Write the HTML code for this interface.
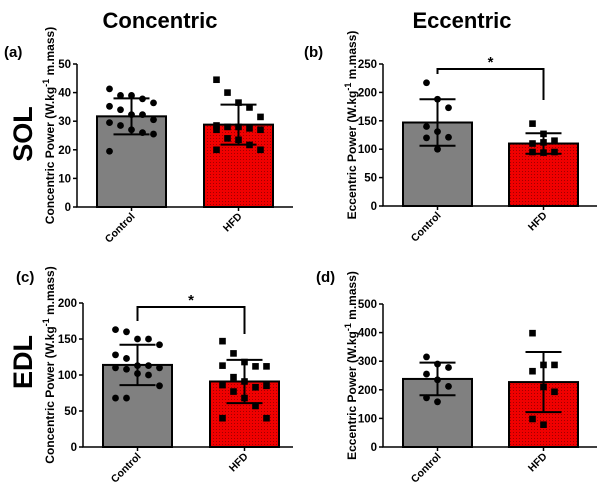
<!DOCTYPE html>
<html><head><meta charset="utf-8"><style>
body{margin:0;background:#fff;width:600px;height:489px;overflow:hidden}
svg{font-family:"Liberation Sans",Arial,sans-serif;font-weight:bold}
</style></head><body>
<svg id="fig" width="600" height="489" viewBox="0 0 600 489">
<defs><pattern id="dots" width="3" height="3" patternUnits="userSpaceOnUse"><rect width="3" height="3" fill="#f00000"/><rect width="1" height="1" fill="#a00000"/></pattern></defs>
<text x="160" y="28" font-size="22" text-anchor="middle">Concentric</text>
<text x="462" y="28" font-size="22" text-anchor="middle">Eccentric</text>
<text transform="translate(32,134) rotate(-90)" font-size="27" text-anchor="middle">SOL</text>
<text transform="translate(32,362) rotate(-90)" font-size="27" text-anchor="middle">EDL</text>
<text x="4" y="57" font-size="15">(a)</text>
<text x="304" y="57" font-size="15">(b)</text>
<text x="16" y="282" font-size="15">(c)</text>
<text x="316" y="282" font-size="15">(d)</text>
</svg>
<script>
const categories=["Control","HFD"];
const aMeans=[31.7,28.8], aSD=[6.3,7.0];
const aControl=[41.3,39,39,37.8,36.4,35.2,34,32.3,32.3,30.5,29.5,28.5,27,26,25.5,19.5];
const aHFD=[44.5,40,36.5,34.8,31.5,28.5,28,28,27.5,27,27,24,23.5,21.7,20,20];
const aTicks=[0,10,20,30,40,50];
const bMeans=[147,110], bSD=[41,18];
const bControl=[217,188,173,140,131,121,120,100];
const bHFD=[145,127,115,110,112,95,95,94];
const bTicks=[0,50,100,150,200,250];
const cMeans=[114,91], cSD=[28,30];
const cControl=[163,160,150,150,142,128,123,113,113,110,110,108,102,100,85,68,68];
const cHFD=[147,130,118,112,112,113,97,91,83,85,86,77,68,57,40,40];
const cTicks=[0,50,100,150,200];
const dMeans=[238,227], dSD=[57,105];
const dControl=[315,290,278,255,235,212,172,158];
const dHFD=[398,287,287,265,210,193,98,78];
const dTicks=[0,100,200,300,400,500];

const svg=document.getElementById('fig');
const NS='http://www.w3.org/2000/svg';
function el(t,a,txt){const e=document.createElementNS(NS,t);for(const k in a)e.setAttribute(k,a[k]);if(txt!==undefined)e.textContent=txt;svg.appendChild(e);return e;}

function panel(id,o){
  const {ax,y0,y1,xEnd,bars,ticks,means,sds,pts,title,titleX,sig}=o;
  const max=ticks[ticks.length-1];
  const Y=v=>y0-(v/max)*(y0-y1);
  const bw=69;
  means.forEach((m,i)=>{
    const r=el('rect',{x:bars[i],y:Y(m),width:bw,height:y0-Y(m),fill:i?'url(#dots)':'#808080',stroke:'#000','stroke-width':2});
    
    
  });
  pts.forEach((arr,i)=>{
    const cx=bars[i]+bw/2;
    const n=arr.length>10?5:3;
    arr.forEach((v,j)=>{
      const off=((j%n)-(n-1)/2)*(n===5?11:11);
      let p;
      if(i===0)p=el('circle',{cx:cx+off,cy:Y(v),r:3.4,fill:'#000'});
      else p=el('rect',{x:cx+off-3.3,y:Y(v)-3.3,width:6.6,height:6.6,fill:'#000'});
      
      
    });
  });
  means.forEach((m,i)=>{
    const cx=bars[i]+bw/2;
    const g=el('path',{d:`M${cx},${Y(m-sds[i])}V${Y(m+sds[i])}M${cx-18},${Y(m+sds[i])}h36M${cx-18},${Y(m-sds[i])}h36`,stroke:'#000','stroke-width':2,fill:'none'});
    
    
  });
  const a=el('path',{d:`M${ax},${y1}V${y0}H${xEnd}`,stroke:'#000','stroke-width':1.5,fill:'none'});
  
  
  ticks.forEach(t=>{
    el('line',{x1:ax-4,x2:ax,y1:Y(t),y2:Y(t),stroke:'#000','stroke-width':1.5});
    const tl=el('text',{x:ax-6,y:Y(t)+4,'font-size':11.5,'text-anchor':'end'},t);
    
    
  });
  categories.forEach((c,i)=>{
    const cx=bars[i]+bw/2;
    el('line',{x1:cx,x2:cx,y1:y0,y2:y0+4,stroke:'#000','stroke-width':1.5});
    const xl=el('text',{transform:`translate(${cx+4},${y0+10}) rotate(-45)`,'font-size':10.5,'text-anchor':'end'},c);
    
    
  });
  const yt=el('text',{transform:`translate(${titleX},${(y0+y1)/2-10}) rotate(-90)`,'font-size':12,'text-anchor':'middle'});
  
  
  yt.innerHTML=title+' Power (W.kg<tspan dy="-5" font-size="9">-1</tspan><tspan dy="5"> m.mass)</tspan>';
  if(sig){
    const c0=bars[0]+bw/2,c1=bars[1]+bw/2;
    const s=el('path',{d:`M${c0},${sig.l}V${sig.y}H${c1}V${sig.r}`,stroke:'#000','stroke-width':2,fill:'none'});
    
    
    const st=el('text',{x:(c0+c1)/2,y:sig.y-2,'font-size':15,'text-anchor':'middle'},'*');
    
    
  }
}
panel('a',{ax:77,y0:207,y1:64,xEnd:293,bars:[97,204],ticks:aTicks,means:aMeans,sds:aSD,pts:[aControl,aHFD],title:'Concentric',titleX:54});
panel('b',{ax:383,y0:206,y1:64,xEnd:597,bars:[403,509],ticks:bTicks,means:bMeans,sds:bSD,pts:[bControl,bHFD],title:'Eccentric',titleX:356,sig:{y:69,l:74,r:100}});
panel('c',{ax:83,y0:447,y1:303,xEnd:293,bars:[103,210],ticks:cTicks,means:cMeans,sds:cSD,pts:[cControl,cHFD],title:'Concentric',titleX:54,sig:{y:307,l:321,r:334}});
panel('d',{ax:383,y0:447,y1:304,xEnd:597,bars:[403,509],ticks:dTicks,means:dMeans,sds:dSD,pts:[dControl,dHFD],title:'Eccentric',titleX:356});
</script>
</body></html>
